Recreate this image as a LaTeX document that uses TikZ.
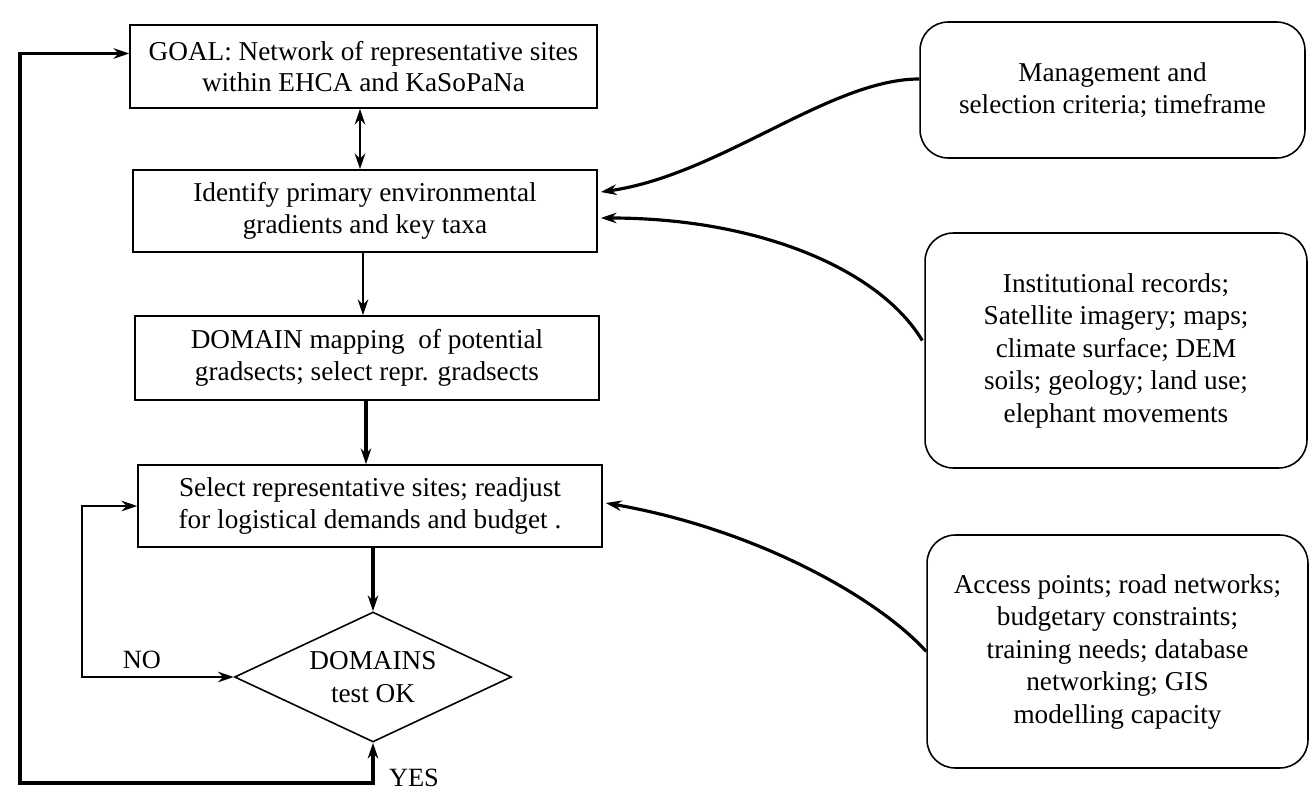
\documentclass[tikz,border=0pt]{standalone}
\usepackage{fontspec}
\setmainfont{Liberation Serif}
\usetikzlibrary{arrows.meta,shapes.geometric,calc}
\begin{document}
\begin{tikzpicture}[x=0.02cm,y=-0.02cm,
  flowbox/.style={draw,line width=0.9pt,rectangle,align=center,inner sep=0pt,
    font=\fontsize{15.5}{18}\selectfont},
  infobox/.style={draw,line width=0.9pt,rectangle,rounded corners=16pt,align=center,inner sep=0pt,
    font=\fontsize{15.5}{18.5}\selectfont},
  decision/.style={draw,line width=0.9pt,diamond,aspect=2,align=center,inner sep=0pt,
    minimum width=5.54cm,minimum height=2.6cm,font=\fontsize{15.5}{19}\selectfont},
  conn/.style={line width=1.5pt,-{Stealth[length=9pt,width=6pt]}},
  biconn/.style={line width=1.5pt,{Stealth[length=9pt,width=6pt]}-{Stealth[length=9pt,width=6pt]}},
  lbl/.style={font=\fontsize{15}{16}\selectfont,inner sep=0pt}
]
\useasboundingbox (0,0) rectangle (1315,790);

\node[flowbox,minimum width=9.34cm,minimum height=1.66cm] (goal) at (363.5,66.5)
  {GOAL: Network of representative sites\\within EHCA and KaSoPaNa};
\node[flowbox,minimum width=9.28cm,minimum height=1.64cm] (ident) at (365,211)
  {Identify primary environmental\\gradients and key taxa};
\node[flowbox,minimum width=9.28cm,minimum height=1.68cm] (domain) at (367,358)
  {DOMAIN mapping\ \ of potential\\gradsects; select repr. gradsects};
\node[flowbox,minimum width=9.28cm,minimum height=1.64cm] (select) at (370,506)
  {Select representative sites; readjust\\for logistical demands and budget .};
\node[decision] (dia) at (373,677) {DOMAINS\\test OK};

\node[infobox,minimum width=7.7cm,minimum height=2.72cm] (mgmt) at (1112.5,90)
  {Management and\\selection criteria; timeframe};
\node[infobox,minimum width=7.64cm,minimum height=4.7cm] (inst) at (1116,350.5)
  {Institutional records;\\Satellite imagery; maps;\\climate surface; DEM\\soils; geology; land use;\\elephant movements};
\node[infobox,minimum width=7.62cm,minimum height=4.66cm] (access) at (1117.5,651.5)
  {Access points; road networks;\\budgetary constraints;\\training needs; database\\networking; GIS\\modelling capacity};

\node[lbl] (no) at (142,660) {NO};
\node[lbl] (yes) at (414,778) {YES};

% vertical flow
\draw[biconn] (goal.south -| 360,0) -- (ident.north -| 360,0);
\draw[conn] (ident.south -| 363,0) -- (domain.north -| 363,0);
\draw[conn,line width=2.2pt] (domain.south -| 366,0) -- (select.north -| 366,0);
\draw[conn,line width=2pt] (select.south -| dia.north) -- (dia.north);

% NO loop
\coordinate (noL) at ($(select.west)+(-55,0)$);
\draw[biconn,line width=1.1pt] (dia.west) -| (noL) -- (select.west);

% YES loop
\coordinate (loopL) at (20,783);
\coordinate (goalin) at ($(goal.west)+(0,-13)$);
\draw[biconn,line width=2pt] (dia.south) |- (loopL) |- (goalin);

% curved inputs
\coordinate (mgS) at ($(mgmt.west)+(0,-11)$);
\coordinate (idA) at ($(ident.east)+(3,-19)$);
\draw[conn,line width=1.8pt] (mgS) .. controls (830,79) and (720,175) .. (idA);
\coordinate (inS) at ($(inst.west)+(-2,-10)$);
\coordinate (idB) at ($(ident.east)+(3,7)$);
\draw[conn,line width=1.8pt] (inS) .. controls (880,270) and (760,218) .. (idB);
\coordinate (acS) at (access.west);
\coordinate (slA) at ($(select.east)+(3,-3)$);
\draw[conn,line width=1.8pt] (acS) .. controls (880,600) and (760,530) .. (slA);
\end{tikzpicture}
\end{document}
